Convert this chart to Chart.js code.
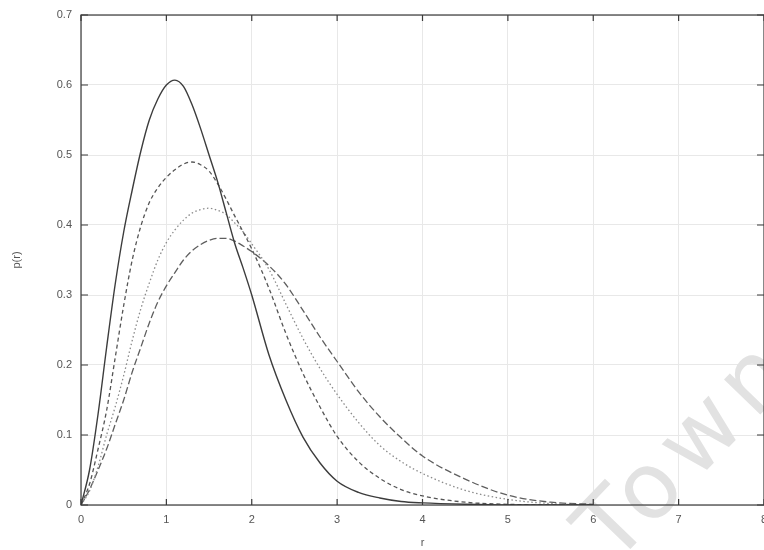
<!DOCTYPE html>
<html>
<head>
<meta charset="utf-8">
<script src="https://cdn.jsdelivr.net/npm/chart.js@4.4.1/dist/chart.umd.min.js"></script>
<style>
  html, body { margin: 0; padding: 0; background: #fff; }
  #wrap { width: 764px; height: 550px; }
</style>
</head>
<body>
<div id="wrap"><canvas id="c"></canvas></div>
<script>
// values
const rValues = [0, 0.1, 0.2, 0.3, 0.4, 0.5, 0.6, 0.7, 0.8, 0.9, 1.0, 1.1, 1.2, 1.3, 1.4, 1.5, 1.6, 1.7, 1.8, 1.9, 2.0,
                 2.2, 2.4, 2.6, 2.8, 3.0, 3.25, 3.5, 3.75, 4.0, 4.5, 5.0, 5.5, 6.0];
const curveA = [0, 0.05, 0.13, 0.225, 0.315, 0.39, 0.45, 0.505, 0.55, 0.58, 0.60, 0.607, 0.598, 0.572, 0.538, 0.50, 0.462, 0.418, 0.374, 0.338, 0.30,
                0.215, 0.15, 0.097, 0.06, 0.034, 0.018, 0.010, 0.005, 0.003, 0.001, 0, 0, 0];
const curveB = [0, 0.03, 0.08, 0.135, 0.21, 0.285, 0.35, 0.398, 0.432, 0.453, 0.468, 0.479, 0.487, 0.49, 0.486, 0.477, 0.459, 0.437, 0.413, 0.39, 0.366,
                0.31, 0.245, 0.188, 0.140, 0.098, 0.062, 0.038, 0.022, 0.013, 0.004, 0.001, 0, 0];
const curveC = [0, 0.02, 0.055, 0.10, 0.14, 0.185, 0.235, 0.28, 0.317, 0.35, 0.375, 0.393, 0.407, 0.417, 0.422, 0.424, 0.421, 0.415, 0.403, 0.39, 0.373,
                0.337, 0.287, 0.238, 0.195, 0.158, 0.118, 0.085, 0.062, 0.045, 0.021, 0.008, 0.002, 0];
const curveD = [0, 0.022, 0.05, 0.08, 0.115, 0.15, 0.19, 0.225, 0.26, 0.29, 0.313, 0.332, 0.35, 0.363, 0.372, 0.378, 0.381, 0.381, 0.377, 0.37, 0.362,
                0.342, 0.315, 0.278, 0.24, 0.205, 0.162, 0.126, 0.096, 0.07, 0.037, 0.014, 0.004, 0.001];
const xTicks = [0, 1, 2, 3, 4, 5, 6, 7, 8];
const yTicks = [0, 0.1, 0.2, 0.3, 0.4, 0.5, 0.6, 0.7];
const xTitle = 'r';
const yTitle = 'p(r)';
const watermark = 'Town';

const pts = (ys) => rValues.map((r, i) => ({ x: r, y: ys[i] }));

function line(ys, color, dash, width){
    return {
        data: pts(ys),
        borderColor: color,
        borderDash: dash,
        borderWidth: width,
        pointRadius: 0,
        fill: false,
        tension: 0.4,
        cubicInterpolationMode: 'monotone'
    };
}

// faint rotated stamp behind the curves
const stampPlugin = {
    id: 'stamp',
    beforeDatasetsDraw(chart){
        const ctx = chart.ctx;
        ctx.save();
        ctx.translate(614, 566);
        ctx.rotate(-46 * Math.PI / 180);
        ctx.font = '92px "DejaVu Sans", sans-serif';
        ctx.letterSpacing = '10px';
        ctx.fillStyle = '#e2e2e2';
        ctx.textBaseline = 'alphabetic';
        ctx.fillText(watermark, 0, 0);
        ctx.restore();
    }
};

// gnuplot style frame with inward ticks on all sides
const framePlugin = {
    id: 'frame',
    afterDatasetsDraw(chart){
        const { ctx, chartArea: a, scales: { x, y } } = chart;
        ctx.save();
        ctx.strokeStyle = '#3a3a3a';
        ctx.lineWidth = 1.2;
        ctx.strokeRect(a.left, a.top, a.right - a.left, a.bottom - a.top);
        ctx.beginPath();
        xTicks.forEach(v => {
            const px = x.getPixelForValue(v);
            ctx.moveTo(px, a.bottom); ctx.lineTo(px, a.bottom - 6);
            ctx.moveTo(px, a.top); ctx.lineTo(px, a.top + 6);
        });
        yTicks.forEach(v => {
            const py = y.getPixelForValue(v);
            ctx.moveTo(a.left, py); ctx.lineTo(a.left + 7, py);
            ctx.moveTo(a.right, py); ctx.lineTo(a.right - 7, py);
        });
        ctx.stroke();
        ctx.restore();
    }
};

Chart.defaults.font.family = '"Liberation Sans", Arial, sans-serif';
Chart.defaults.font.size = 11;
Chart.defaults.color = '#555';

new Chart(document.getElementById('c'), {
    type: 'line',
    data: {
        datasets: [
            line(curveA, '#3c3c3c', [], 1.4),
            line(curveB, '#555', [4, 3], 1.3),
            line(curveC, '#8a8a8a', [1.5, 2.5], 1.3),
            line(curveD, '#5e5e5e', [7, 3], 1.3)
        ]
    },
    options: {
        responsive: true,
        maintainAspectRatio: false,
        animation: false,
        layout: { padding: { top: 15, right: 0, left: 0, bottom: 0 } },
        plugins: { legend: { display: false }, tooltip: { enabled: false } },
        scales: {
            x: {
                type: 'linear', min: 0, max: 8,
                afterBuildTicks: s => { s.ticks = xTicks.map(v => ({ value: v })); },
                afterFit: s => { s.height = 45; s.paddingLeft = 0; s.paddingRight = 0; },
                ticks: { padding: 8, maxRotation: 0, callback: v => String(v) },
                grid: { color: '#e8e8e8', drawTicks: false },
                border: { display: false },
                title: { display: true, text: xTitle, padding: { top: 3, bottom: 0 } }
            },
            y: {
                type: 'linear', min: 0, max: 0.7,
                afterBuildTicks: s => { s.ticks = yTicks.map(v => ({ value: v })); },
                afterFit: s => { s.width = 81; s.paddingTop = 0; s.paddingBottom = 0; },
                ticks: { padding: 9, callback: v => v === 0 ? '0' : v.toFixed(1) },
                grid: { color: '#e8e8e8', drawTicks: false },
                border: { display: false },
                title: { display: true, text: yTitle, padding: { top: 10, bottom: 0 } }
            }
        }
    },
    plugins: [stampPlugin, framePlugin]
});
</script>
</body>
</html>
